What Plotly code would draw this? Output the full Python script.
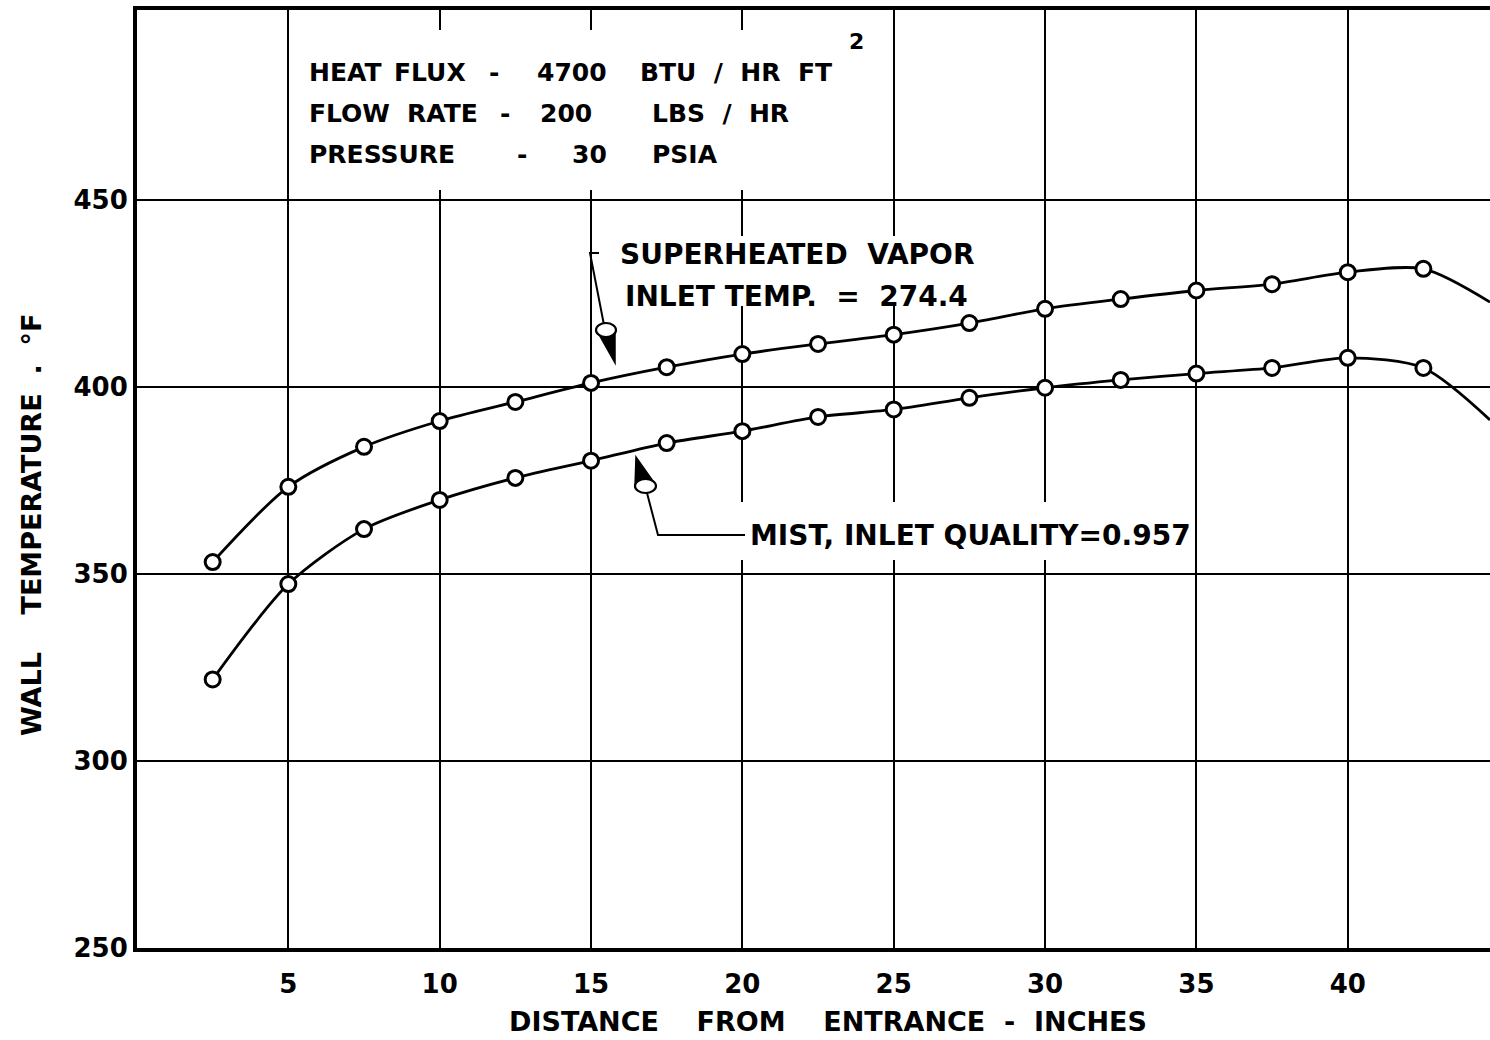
import plotly.graph_objects as go

# Wall temperature along the heated tube, two inlet conditions
distance = [2.5, 5, 7.5, 10, 12.5, 15, 17.5, 20, 22.5, 25, 27.5, 30, 32.5, 35, 37.5, 40, 42.5]
vapor_temp = [353.2, 373.3, 384.0, 390.9, 396.0, 401.1, 405.3, 408.8, 411.5, 414.0,
              417.1, 420.9, 423.5, 425.8, 427.5, 430.7, 431.6]
mist_temp = [321.8, 347.3, 362.0, 369.8, 375.7, 380.3, 385.0, 388.2, 392.0, 394.0,
             397.1, 399.8, 401.9, 403.6, 405.1, 407.8, 405.1]

# faired curves run on to the right-hand edge of the grid
curve_end_x = 44.7
vapor_end = 422.7
mist_end = 391.2

x_ticks = [5, 10, 15, 20, 25, 30, 35, 40]
y_ticks = [250, 300, 350, 400, 450]

W, H = 1490, 1040
L, R, T, B = 137, 0, 10, 92
X_RANGE = [0, 44.7]
Y_RANGE = [250, 500.8]
PLOT_W = W - L - R
PLOT_H = H - T - B

FONT = "DejaVu Sans"
INK = "black"


def px_x(px):
    return X_RANGE[0] + (px - L) / PLOT_W * (X_RANGE[1] - X_RANGE[0])


def px_y(py):
    return Y_RANGE[1] - (py - T) / PLOT_H * (Y_RANGE[1] - Y_RANGE[0])


def path(points, close=False):
    s = "M " + " L ".join(f"{px_x(a):.4f},{px_y(b):.4f}" for a, b in points)
    return s + (" Z" if close else "")


fig = go.Figure()

for temps, end in ((vapor_temp, vapor_end), (mist_temp, mist_end)):
    fig.add_trace(go.Scatter(
        x=distance + [curve_end_x], y=temps + [end],
        mode="lines", line=dict(color=INK, width=2.8, shape="spline", smoothing=0.8),
        hoverinfo="skip", showlegend=False,
    ))
    fig.add_trace(go.Scatter(
        x=distance, y=temps, mode="markers",
        marker=dict(symbol="circle", size=15, color="white", line=dict(color=INK, width=3)),
        showlegend=False,
    ))

shapes = []

# blank panels that interrupt the grid behind the lettering
for x0, x1, y0, y1 in ((291, 888, 30, 190), (606, 1000, 236, 306), (737, 1190, 502, 560)):
    shapes.append(dict(type="rect", layer="above", line=dict(width=0), fillcolor="white",
                       x0=px_x(x0), x1=px_x(x1), y0=px_y(y1), y1=px_y(y0)))

# leader to the superheated-vapour curve
shapes.append(dict(type="path", layer="above", line=dict(color=INK, width=2),
                   path=path([(599, 253), (590, 253), (604, 325)])))
shapes.append(dict(type="path", layer="above", line=dict(color=INK, width=1.5), fillcolor=INK,
                   path=path([(597, 331), (615, 363), (615, 328)], close=True)))
shapes.append(dict(type="circle", layer="above", line=dict(color=INK, width=2.2), fillcolor="white",
                   x0=px_x(596), x1=px_x(616), y0=px_y(337), y1=px_y(323)))

# leader to the mist curve
shapes.append(dict(type="path", layer="above", line=dict(color=INK, width=2),
                   path=path([(745, 535), (658, 535), (647, 493)])))
shapes.append(dict(type="path", layer="above", line=dict(color=INK, width=1.5), fillcolor=INK,
                   path=path([(635, 487), (636, 457), (655, 484)], close=True)))
shapes.append(dict(type="circle", layer="above", line=dict(color=INK, width=2.2), fillcolor="white",
                   x0=px_x(635), x1=px_x(656), y0=px_y(493), y1=px_y(479)))

fig.update_layout(shapes=shapes)

NB = "\u00a0"


def note(text, px, py, size=28, xanchor="left", angle=0):
    fig.add_annotation(text=text, x=(px - L) / PLOT_W, y=1 - (py - T) / PLOT_H,
                       xref="paper", yref="paper",
                       xanchor=xanchor, yanchor="middle", showarrow=False, textangle=angle,
                       font=dict(family=FONT, size=size, color=INK, weight="bold"))


# test conditions
HS = 25
note("HEAT", 307, 72, size=HS)
note("FLUX", 392, 72, size=HS)
note("-", 494, 72, size=HS, xanchor="center")
note("4700", 535, 72, size=HS)
note(f"BTU{NB*2}/{NB*2}HR{NB*2}FT", 638, 72, size=HS)
note("2", 856, 42, size=22, xanchor="center")
note("FLOW", 307, 113, size=HS)
note("RATE", 405, 113, size=HS)
note("-", 505, 113, size=HS, xanchor="center")
note("200", 538, 113, size=HS)
note(f"LBS{NB*2}/{NB*2}HR", 650, 113, size=HS)
note("PRESSURE", 307, 155, size=HS)
note("-", 522, 155, size=HS, xanchor="center")
note("30", 570, 155, size=HS)
note("PSIA", 650, 155, size=HS)

# curve labels
note(f"SUPERHEATED{NB*2}VAPOR", 618, 255)
note(f"INLET{NB}TEMP.{NB*2}={NB*2}274.4", 623, 296)
note(f"MIST,{NB}INLET{NB}QUALITY=0.957", 748, 535)

# axis titles
note(f"DISTANCE{NB*4}FROM{NB*4}ENTRANCE{NB*2}-{NB*2}INCHES", 828, 1021, size=27, xanchor="center")
note(f"WALL{NB*4}TEMPERATURE{NB*2}.{NB*2}°F", 31, 525, size=27, xanchor="center", angle=-90)

tick_font = dict(family=FONT, size=26, color=INK, weight="bold")

fig.update_xaxes(
    range=X_RANGE, tickvals=x_ticks, ticktext=[str(v) for v in x_ticks],
    showgrid=True, gridcolor=INK, gridwidth=1.8, zeroline=False,
    showline=True, linecolor=INK, linewidth=4, mirror=True,
    ticks="", tickfont=tick_font, ticklabelstandoff=10,
)
fig.update_yaxes(
    range=Y_RANGE, tickvals=y_ticks, ticktext=[str(v) for v in y_ticks],
    showgrid=True, gridcolor=INK, gridwidth=1.8, zeroline=False,
    showline=True, linecolor=INK, linewidth=4, mirror=False,
    ticks="", tickfont=tick_font, ticklabelstandoff=0,
)

fig.update_layout(
    width=W, height=H,
    margin=dict(l=L, r=R, t=T, b=B, pad=0),
    paper_bgcolor="white", plot_bgcolor="white",
    showlegend=False,
)

fig.write_html("out.html")
